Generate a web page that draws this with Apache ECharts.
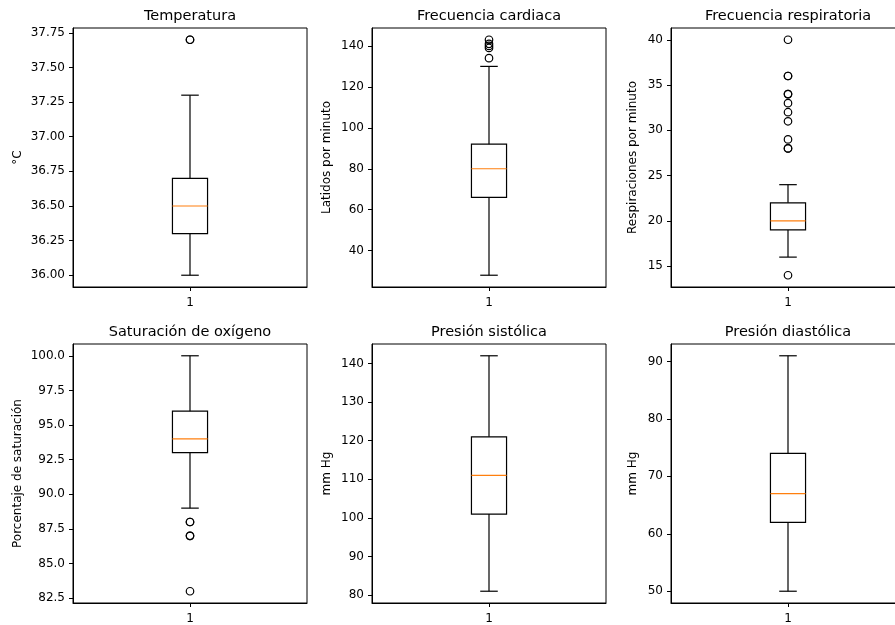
<!DOCTYPE html>
<html><head><meta charset="utf-8">
<script src="https://cdn.jsdelivr.net/npm/echarts@6/dist/echarts.min.js"></script>
<style>html,body{margin:0;padding:0;background:#fff}#c{width:895px;height:625px}</style>
</head><body><div id="c"></div>
<script>
const categories = ['1'];
const titles = ['Temperatura', 'Frecuencia cardiaca', 'Frecuencia respiratoria',
                'Saturación de oxígeno', 'Presión sistólica', 'Presión diastólica'];
const yNames = ['°C', 'Latidos por minuto', 'Respiraciones por minuto',
                'Porcentaje de saturación', 'mm Hg', 'mm Hg'];
// [lower whisker, Q1, median, Q3, upper whisker]
const tempBox = [36.0, 36.3, 36.5, 36.7, 37.3];
const cardBox = [28, 66, 80, 92, 130];
const respBox = [16, 19, 20, 22, 24];
const satBox  = [89, 93, 94, 96, 100];
const sysBox  = [81, 101, 111, 121, 142];
const diaBox  = [50, 62, 67, 74, 91];
// outliers (fliers)
const tempOut = [37.7, 37.7];
const cardOut = [143, 141, 140, 139, 134];
const respOut = [40, 36, 36, 34, 34, 33, 32, 31, 29, 28, 28, 14];
const satOut  = [88, 88, 87, 87, 83];
const sysOut  = [];
const diaOut  = [];
// tick labels
const tempTicks = [36.00, 36.25, 36.50, 36.75, 37.00, 37.25, 37.50, 37.75];
const cardTicks = [40, 60, 80, 100, 120, 140];
const respTicks = [15, 20, 25, 30, 35, 40];
const satTicks  = [82.5, 85.0, 87.5, 90.0, 92.5, 95.0, 97.5, 100.0];
const sysTicks  = [80, 90, 100, 110, 120, 130, 140];
const diaTicks  = [50, 60, 70, 80, 90];

const boxes = [tempBox, cardBox, respBox, satBox, sysBox, diaBox];
const outs = [tempOut, cardOut, respOut, satOut, sysOut, diaOut];
const ticks = [tempTicks, cardTicks, respTicks, satTicks, sysTicks, diaTicks];
const decimals = [2, 0, 0, 1, 0, 0];
const nameGaps = [49, 39, 32, 49, 39, 32];

const colLeft = [73, 372, 671];
const rowTop = [28, 344];
const W = 234, H = 259;
const FONT = '"DejaVu Sans", sans-serif';

const grids = [], xAxes = [], yAxes = [], series = [], graphics = [];
for (let i = 0; i < 6; i++) {
  const r = Math.floor(i / 3), c = i % 3;
  grids.push({left: colLeft[c], top: rowTop[r], width: W, height: H,
    outerBoundsMode: 'none', containLabel: false,
    show: true, borderColor: '#000', borderWidth: 1, backgroundColor: 'transparent'});
  const all = boxes[i].concat(outs[i]);
  const lo = Math.min(...all), hi = Math.max(...all);
  const pad = (hi - lo) * 0.05;
  const d = decimals[i];
  xAxes.push({type: 'category', data: categories, gridIndex: i, boundaryGap: true,
    axisLine: {show: true, lineStyle: {color: '#000', width: 1}},
    axisTick: {show: true, alignWithLabel: true, length: 4, lineStyle: {color: '#000', width: 1}},
    axisLabel: {margin: 10, color: '#000', fontSize: 12, fontFamily: FONT},
    splitLine: {show: false}});
  yAxes.push({type: 'value', gridIndex: i, min: lo - pad, max: hi + pad,
    name: yNames[i], nameLocation: 'middle', nameRotate: 90, nameGap: nameGaps[i],
    nameTextStyle: {color: '#000', fontSize: 12, fontFamily: FONT},
    axisLine: {show: true, lineStyle: {color: '#000', width: 1}},
    axisTick: {show: true, length: 4, customValues: ticks[i], lineStyle: {color: '#000', width: 1}},
    axisLabel: {margin: 8, color: '#000', fontSize: 12, fontFamily: FONT,
      customValues: ticks[i], formatter: v => Number(v).toFixed(d)},
    splitLine: {show: false}});
  series.push({type: 'custom', xAxisIndex: i, yAxisIndex: i, silent: true,
    data: [[0].concat(boxes[i])], encode: {x: 0, y: [1, 2, 3, 4, 5]},
    renderItem: function (params, api) {
      const xc = api.coord([api.value(0), api.value(3)])[0];
      const band = api.size([1, 0])[0];
      const bw = band * 0.15, cw = bw / 2;
      const y = k => api.coord([api.value(0), api.value(k)])[1];
      const yLo = y(1), yQ1 = y(2), yMed = y(3), yQ3 = y(4), yHi = y(5);
      const ls = {stroke: '#000', lineWidth: 1.2, fill: null};
      return {type: 'group', children: [
        {type: 'line', shape: {x1: xc, y1: yQ1, x2: xc, y2: yLo}, style: ls},
        {type: 'line', shape: {x1: xc, y1: yQ3, x2: xc, y2: yHi}, style: ls},
        {type: 'line', shape: {x1: xc - cw / 2, y1: yLo, x2: xc + cw / 2, y2: yLo}, style: ls},
        {type: 'line', shape: {x1: xc - cw / 2, y1: yHi, x2: xc + cw / 2, y2: yHi}, style: ls},
        {type: 'rect', shape: {x: xc - bw / 2, y: yQ3, width: bw, height: yQ1 - yQ3},
          style: {stroke: '#000', lineWidth: 1.2, fill: 'rgba(0,0,0,0)'}},
        {type: 'line', shape: {x1: xc - bw / 2, y1: yMed, x2: xc + bw / 2, y2: yMed},
          style: {stroke: '#ff7f0e', lineWidth: 1.2}}
      ]};
    }});
  series.push({type: 'scatter', xAxisIndex: i, yAxisIndex: i, silent: true,
    symbol: 'circle', symbolSize: 7.5,
    itemStyle: {color: 'rgba(0,0,0,0)', borderColor: '#000', borderWidth: 1.2, opacity: 1},
    data: outs[i].map(v => [0, v])});
  graphics.push({type: 'text', x: colLeft[c] + W / 2, y: rowTop[r] - 12,
    style: {text: titles[i], font: '14.5px ' + FONT, fill: '#000',
      align: 'center', verticalAlign: 'middle', textAlign: 'center', textVerticalAlign: 'middle'}});
}

const chart = echarts.init(document.getElementById('c'), null, {renderer: 'canvas'});
chart.setOption({
  animation: false,
  backgroundColor: '#fff',
  grid: grids, xAxis: xAxes, yAxis: yAxes, series: series,
  graphic: graphics
});
</script></body></html>
